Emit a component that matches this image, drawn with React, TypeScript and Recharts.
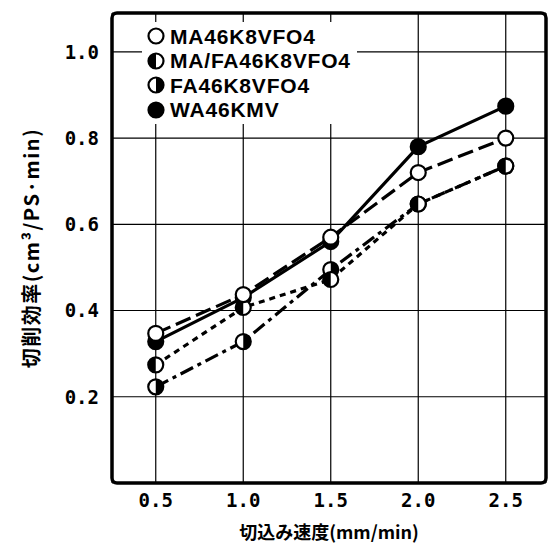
import {
  LineChart,
  Line,
  XAxis,
  YAxis,
  CartesianGrid,
  ReferenceArea,
  Label,
} from "recharts";

// 切込み速度 (mm/min)
const speeds = [0.5, 1.0, 1.5, 2.0, 2.5];

// 切削効率 (cm³/PS·min)
const maValues = [0.347, 0.437, 0.57, 0.72, 0.8];
const mafaValues = [0.274, 0.407, 0.472, 0.647, 0.735];
const faValues = [0.223, 0.328, 0.495, 0.647, 0.735];
const waValues = [0.328, 0.43, 0.56, 0.78, 0.874];

const seriesNames = ["MA46K8VFO4", "MA/FA46K8VFO4", "FA46K8VFO4", "WA46KMV"];

const xTicks = [0.5, 1.0, 1.5, 2.0, 2.5];
const yTicks = [0.2, 0.4, 0.6, 0.8, 1.0];
const xDomain: [number, number] = [0.25, 2.73];
const yDomain: [number, number] = [0, 1.09];

const xTitle = "切込み速度(mm/min)";
const yTitle = "切削効率(cm³/PS·min)";

const data = speeds.map((s, i) => ({
  speed: s,
  ma: maValues[i],
  mafa: mafaValues[i],
  fa: faValues[i],
  wa: waValues[i],
}));

type Kind = "open" | "left" | "right" | "filled";

function Marker({ cx, cy, kind, r = 7.5 }: { cx: number; cy: number; kind: Kind; r?: number }) {
  const halfLeft = `M ${cx} ${cy - r} A ${r} ${r} 0 0 0 ${cx} ${cy + r} Z`;
  const halfRight = `M ${cx} ${cy - r} A ${r} ${r} 0 0 1 ${cx} ${cy + r} Z`;
  return (
    <g>
      <circle cx={cx} cy={cy} r={r} fill={kind === "filled" ? "#000" : "#fff"} stroke="#000" strokeWidth={2.2} />
      {kind === "left" && <path d={halfLeft} fill="#000" />}
      {kind === "right" && <path d={halfRight} fill="#000" />}
    </g>
  );
}

const dot = (kind: Kind) => (p: any) => {
  if (p.cx == null || p.cy == null) return <g key={p.index} />;
  return <Marker key={p.index} cx={p.cx} cy={p.cy} kind={kind} />;
};

const tickFont = {
  fontFamily: "DejaVu Sans Mono",
  fontWeight: 700,
  fontSize: 19,
  fill: "#000",
};

const legendKinds: Kind[] = ["open", "left", "right", "filled"];

function LegendBox() {
  return (
    <div
      style={{
        position: "absolute",
        left: 142,
        top: 22,
        background: "#fff",
        padding: "2px 6px 2px 4px",
        fontFamily: "Liberation Sans, Arial, sans-serif",
        fontWeight: 700,
        fontSize: 21,
        letterSpacing: 0.8,
        lineHeight: "25px",
        color: "#000",
      }}
    >
      {seriesNames.map((name, i) => (
        <div key={name} style={{ display: "flex", alignItems: "center", height: 24.5 }}>
          <svg width={20} height={20} style={{ marginRight: 4 }}>
            <Marker cx={10} cy={10} kind={legendKinds[i]} />
          </svg>
          <span>{name}</span>
        </div>
      ))}
    </div>
  );
}

export default function App() {
  return (
    <div style={{ position: "absolute", left: 0, top: 0, width: 553, height: 549, background: "#fff" }}>
      <LineChart
        width={553}
        height={549}
        data={data}
        margin={{ top: 13, right: 7, bottom: 6, left: 22 }}
      >
        <CartesianGrid stroke="#000" strokeWidth={1.2} />
        <XAxis
          dataKey="speed"
          type="number"
          domain={xDomain}
          ticks={xTicks}
          tickFormatter={(v: number) => v.toFixed(1)}
          axisLine={false}
          tickLine={false}
          tickMargin={5}
          tick={tickFont}
          height={60}
          allowDataOverflow
        >
          <Label
            content={(props: any) => {
              const vb = props.viewBox;
              return (
                <text
                  x={vb.x + vb.width / 2}
                  y={vb.y + 48}
                  textAnchor="middle"
                  dominantBaseline="central"
                  fontFamily="Noto Sans CJK JP"
                  fontWeight={700}
                  fontSize={18}
                  fill="#000"
                >
                  {xTitle}
                </text>
              );
            }}
          />
        </XAxis>
        <YAxis
          type="number"
          domain={yDomain}
          ticks={yTicks}
          tickFormatter={(v: number) => v.toFixed(1)}
          axisLine={false}
          tickLine={false}
          tickMargin={7}
          tick={tickFont}
          width={90}
          allowDataOverflow
        >
          <Label
            content={(props: any) => {
              const vb = props.viewBox;
              const x = vb.x + 8;
              const y = vb.y + vb.height / 2;
              return (
                <text
                  x={x}
                  y={y}
                  transform={`rotate(-90 ${x} ${y})`}
                  textAnchor="middle"
                  dominantBaseline="central"
                  fontFamily="Noto Sans CJK JP"
                  fontWeight={700}
                  fontSize={20}
                  letterSpacing={1.5}
                  fill="#000"
                >
                  {yTitle}
                </text>
              );
            }}
          />
        </YAxis>
        <ReferenceArea
          x1={xDomain[0]}
          x2={xDomain[1]}
          y1={yDomain[0]}
          y2={yDomain[1]}
          fill="none"
          fillOpacity={0}
          stroke="#000"
          strokeWidth={3.5}
          radius={5}
          ifOverflow="visible"
        />
        <Line
          dataKey="wa"
          stroke="#000"
          strokeWidth={3.2}
          dot={dot("filled")}
          isAnimationActive={false}
        />
        <Line
          dataKey="fa"
          stroke="#000"
          strokeWidth={3.2}
          strokeDasharray="14 5 4 5"
          dot={dot("right")}
          isAnimationActive={false}
        />
        <Line
          dataKey="mafa"
          stroke="#000"
          strokeWidth={3.2}
          strokeDasharray="6 5"
          dot={dot("left")}
          isAnimationActive={false}
        />
        <Line
          dataKey="ma"
          stroke="#000"
          strokeWidth={3.2}
          strokeDasharray="16 6"
          dot={dot("open")}
          isAnimationActive={false}
        />
      </LineChart>
      <LegendBox />
    </div>
  );
}
